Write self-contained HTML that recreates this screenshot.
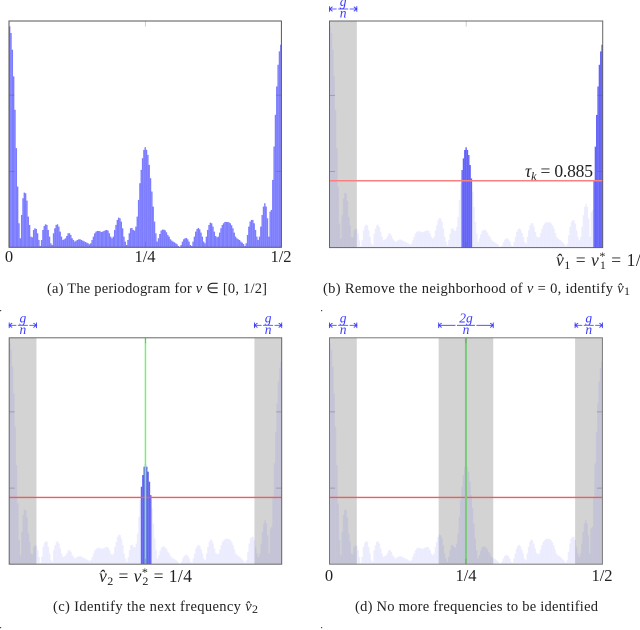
<!DOCTYPE html>
<html>
<head>
<meta charset="utf-8">
<title>Periodogram peeling</title>
<style>
  html, body { margin: 0; padding: 0; background: #fff; overflow: hidden; }
  svg { display: block; font-family: "Liberation Serif", serif; fill: #222; }
  .tick { font-size: 16.5px; text-anchor: middle; }
  .cap { font-size: 14.5px; }
  .eq { font-size: 17.5px; }
  .sub { font-size: 12px; }
  .frac { font-size: 13.5px; font-style: italic; text-anchor: middle; fill: #3a3aff; }
</style>
</head>
<body>
<svg id="figure" xmlns="http://www.w3.org/2000/svg" width="640" height="630" viewBox="0 0 640 630">
  <g id="panel-a"></g>
  <g id="panel-b"></g>
  <g id="panel-c"></g>
  <g id="panel-d"></g>

  <text class="tick" x="9" y="262">0</text>
  <text class="tick" x="145" y="262">1/4</text>
  <text class="tick" x="281" y="262">1/2</text>
  <text class="cap" x="47" y="293" textLength="220">(a) The periodogram for <tspan font-style="italic">v</tspan> ∈ [0, 1/2]</text>

  <text class="eq" x="525" y="177" textLength="68"><tspan font-style="italic">τ</tspan><tspan class="sub" font-style="italic" dy="3">k</tspan><tspan dy="-3"> = 0.885</tspan></text>
  <text class="eq" x="556" y="266" textLength="94"><tspan font-style="italic">v̂</tspan><tspan class="sub" dy="3">1</tspan><tspan dy="-3"> = </tspan><tspan font-style="italic">v</tspan><tspan class="sub" dy="-6">*</tspan><tspan class="sub" dy="9" dx="-6">1</tspan><tspan dy="-3"> = 1/2</tspan></text>
  <text class="cap" x="323" y="293" textLength="307">(b) Remove the neighborhood of <tspan font-style="italic">v</tspan> = 0, identify <tspan font-style="italic">v̂</tspan><tspan class="sub" dy="2">1</tspan></text>

  <text class="eq" x="99" y="582" textLength="93"><tspan font-style="italic">v̂</tspan><tspan class="sub" dy="3">2</tspan><tspan dy="-3"> = </tspan><tspan font-style="italic">v</tspan><tspan class="sub" dy="-6">*</tspan><tspan class="sub" dy="9" dx="-6">2</tspan><tspan dy="-3"> = 1/4</tspan></text>
  <text class="cap" x="53" y="611" textLength="205">(c) Identify the next frequency <tspan font-style="italic">v̂</tspan><tspan class="sub" dy="2">2</tspan></text>

  <text class="tick" x="329" y="581">0</text>
  <text class="tick" x="466" y="581">1/4</text>
  <text class="tick" x="602" y="581">1/2</text>
  <text class="cap" x="355" y="611" textLength="243">(d) No more frequencies to be identified</text>

  <rect x="321" y="310" width="1.2" height="1.2" fill="#444"></rect>
  <rect x="0" y="310" width="1.2" height="1.2" fill="#444"></rect>
  <rect x="321" y="627" width="1.2" height="1.2" fill="#444"></rect>
  <rect x="0" y="627" width="1.2" height="1.2" fill="#444"></rect>
</svg>

<script>
// Periodogram amplitudes, low to high frequency (power units).
var periodogramValues = [
  662,642,592,512,412,297,182,72,27,97,147,164,162,140,92,67,32,30,52,57,55,42,22,4,22,52,64,69,67,52,32,12,7,42,57,67,69,62,47,32,
  22,24,27,34,42,42,37,27,22,17,20,22,24,24,22,20,18,16,14,12,9,12,22,32,42,47,49,49,48,46,47,49,51,52,50,42,32,27,32,52,67,82,89,87,
  77,57,32,17,7,22,42,57,58,52,50,62,92,142,192,232,267,292,300,292,277,247,207,167,122,77,42,17,
  27,40,50,53,53,51,45,37,32,24,20,17,15,12,9,4,1,7,17,24,27,28,24,17,7,4,17,32,47,55,58,54,44,32,17,12,32,52,67,74,72,62,47,34,30,32,
  44,57,67,72,76,76,76,75,72,66,57,44,32,27,24,22,17,14,10,4,12,37,62,77,82,82,72,52,32,22,32,62,97,122,132,122,87,32,107,112,202,302,397,482,547,587,607
];
var yTickValues = [228, 456];
var xTickValues = [0.25];
var thresholdValue = 200;
var foundFrequencies = [0.25];
var maskHalfWidth = 0.05;
var panelAMasks = [];
var panelBMasks = [0];
var panelCMasks = [0, 0.5];
var panelDMasks = [0, 0.25, 0.5];

var NS = 'http://www.w3.org/2000/svg';
var Y_MAX = 678;
var X_MAX = 0.5;

function make(parent, tag, attrs) {
  var node = document.createElementNS(NS, tag);
  for (var k in attrs) node.setAttribute(k, attrs[k]);
  parent.appendChild(node);
  return node;
}

function drawDimension(g, x0, x1, y, label) {
  var mid = (x0 + x1) / 2;
  var gap = label.length > 1 ? 10.5 : 6.5;
  var color = '#3a3aff';
  var sides = [[x0, mid - gap, 1], [x1, mid + gap, -1]];
  sides.forEach(function (s) {
    var line = make(g, 'line', { x1: s[0], y1: y, x2: s[1], y2: y, stroke: color, 'stroke-width': 0.8 });
    
    
    var cap = make(g, 'line', { x1: s[0], y1: y - 2.8, x2: s[0], y2: y + 2.8, stroke: color, 'stroke-width': 0.9 });
    
    
    var head = make(g, 'path', {
      d: 'M' + (s[0] + 3 * s[2]) + ' ' + (y - 2.2) + 'L' + s[0] + ' ' + y + 'L' + (s[0] + 3 * s[2]) + ' ' + (y + 2.2),
      stroke: color, fill: 'none', 'stroke-width': 0.9
    });
    
    
  });
  var top = make(g, 'text', { x: mid, y: y - 3, 'class': 'frac' });
  top.textContent = label;
  
  
  var bar = make(g, 'line', { x1: mid - gap + 1.5, y1: y, x2: mid + gap - 1.5, y2: y, stroke: color, 'stroke-width': 0.8 });
  
  
  var bottom = make(g, 'text', { x: mid, y: y + 8.7, 'class': 'frac' });
  bottom.textContent = 'n';
  
  
}

function drawPanel(cfg) {
  var g = document.getElementById(cfg.id);
  var L = cfg.left, R = cfg.right, T = cfg.top, B = cfg.bottom;
  function xs(v) { return L + (v / X_MAX) * (R - L); }
  function ys(v) { return B - (v / Y_MAX) * (B - T); }
  var masks = cfg.masks;
  function masked(f) {
    return masks.some(function (m) { return Math.abs(f - m) <= maskHalfWidth; });
  }

  masks.forEach(function (m) {
    var a = Math.max(0, m - maskHalfWidth), b = Math.min(X_MAX, m + maskHalfWidth);
    var zone = make(g, 'rect', { x: xs(a), y: T, width: xs(b) - xs(a), height: B - T, fill: '#d3d3d3' });
    
    
    var text = Math.abs(b - a - 2 * maskHalfWidth) < 1e-9 ? '2g' : 'g';
    drawDimension(g, xs(a), xs(b), cfg.arrowY, text);
  });

  var n = periodogramValues.length;
  var binW = X_MAX / n;
  periodogramValues.forEach(function (v, i) {
    var f0 = i * binW, fc = (i + 0.5) * binW;
    var fill = '#7c7cff', op = 1;
    if (cfg.mode !== 'all') {
      var selected = v > thresholdValue && !masked(fc);
      fill = selected ? '#5a5af8' : '#4a4aff';
      op = selected ? 0.95 : 0.1;
    }
    var rect = make(g, 'rect', {
      x: xs(f0), y: ys(v), width: xs(binW) - xs(0) + 0.05, height: B - ys(v),
      fill: fill, 'fill-opacity': op
    });
    
    
  });

  if (cfg.red) {
    var red = make(g, 'line', { x1: L, x2: R, y1: ys(thresholdValue), y2: ys(thresholdValue), stroke: cfg.red, 'stroke-width': cfg.redW });
    
    
  }
  if (cfg.green) {
    foundFrequencies.forEach(function (f) {
      var gl = make(g, 'line', { x1: xs(f), x2: xs(f), y1: T, y2: B, stroke: cfg.green, 'stroke-width': cfg.greenW });
      
      
    });
  }

  yTickValues.forEach(function (v) {
    [[L, L + 5.5], [R, R - 5.5]].forEach(function (p) {
      var t = make(g, 'line', { x1: p[0], x2: p[1], y1: ys(v), y2: ys(v), stroke: '#555', 'stroke-width': 0.5, 'stroke-opacity': 0.7 });
      
      
    });
  });
  xTickValues.forEach(function (v) {
    [[T, T + 5.5], [B, B - 5.5]].forEach(function (p) {
      var t = make(g, 'line', { x1: xs(v), x2: xs(v), y1: p[0], y2: p[1], stroke: '#555', 'stroke-width': 0.5, 'stroke-opacity': 0.6 });
      
      
    });
  });

  var frame = make(g, 'rect', { x: L, y: T, width: R - L, height: B - T, fill: 'none', stroke: cfg.frame, 'stroke-width': 1 });
  
  
}

drawPanel({ id: 'panel-a', left: 9, right: 281.4, top: 21, bottom: 247.3, masks: panelAMasks, mode: 'all', frame: '#555' });
drawPanel({ id: 'panel-b', left: 329.5, right: 602.7, top: 21, bottom: 247.6, masks: panelBMasks, mode: 'peel', red: '#f98080', redW: 1.6, frame: '#666', arrowY: 9 });
drawPanel({ id: 'panel-c', left: 9.2, right: 281.7, top: 337.8, bottom: 564.2, masks: panelCMasks, mode: 'peel', red: '#f45a5a', redW: 1.3, green: '#78f078', greenW: 1.5, frame: '#666', arrowY: 325.3 });
drawPanel({ id: 'panel-d', left: 329.5, right: 602.4, top: 337.8, bottom: 564.2, masks: panelDMasks, mode: 'peel', red: '#f45a5a', redW: 1.3, green: '#78cc78', greenW: 2, frame: '#777', arrowY: 325.3 });
</script>
</body>
</html>
